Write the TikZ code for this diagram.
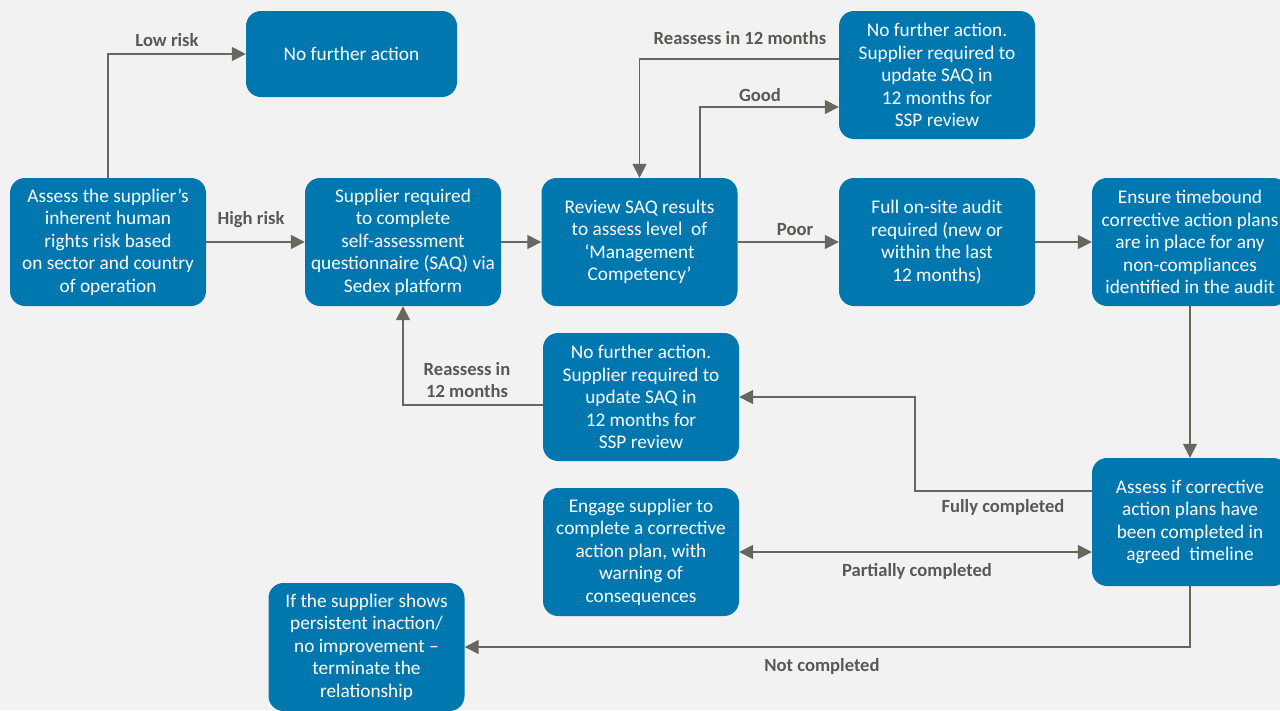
\documentclass[tikz,border=0pt]{standalone}
\usepackage{fontspec}
\setmainfont{Carlito}
\usetikzlibrary{arrows.meta}
\definecolor{boxblue}{RGB}{0,119,174}
\definecolor{linegrey}{RGB}{103,103,95}
\definecolor{labelgrey}{RGB}{88,88,84}
\definecolor{paper}{RGB}{242,242,242}
\begin{document}
\begin{tikzpicture}[
            x=1pt, y=-1pt,
            step box/.style = {shape=rectangle, rounded corners=15pt, fill=boxblue, text=white, align=center,
                minimum width=196pt, minimum height=128pt, inner sep=2pt, font=\fontsize{19.3}{22.5}\selectfont},
            flow/.style = {draw=linegrey, line width=1.6pt, -{Triangle[length=14pt,width=14pt]}},
            both flow/.style = {flow, {Triangle[length=14pt,width=14pt]}-{Triangle[length=14pt,width=14pt]}},
            branch/.style = {text=labelgrey, align=center, font=\bfseries\fontsize{18.6}{22}\selectfont, inner sep=0pt}
        ]

        \fill[paper] (0,0) rectangle (1280,710);
        \useasboundingbox (0,0) rectangle (1280,710);

        % boxes
        \node[step box] (riskcheck) at (108,242) {Assess the supplier’s\\inherent human\\rights risk based\\on sector and country\\of operation};
        \node[step box, minimum width=211pt, minimum height=86pt] (lowend) at (351.5,54) {No further action};
        \node[step box] (saq) at (403,242) {Supplier required\\to complete\\self-assessment\\questionnaire (SAQ) via\\Sedex platform};
        \node[step box] (review) at (639.5,242) {Review SAQ results\\to assess level\ \ of\\‘Management\\Competency’};
        \node[step box] (goodend) at (937,75) {No further action.\\Supplier required to\\update SAQ in\\12 months for\\SSP review};
        \node[step box] (audit) at (937,242) {Full on-site audit\\required (new or\\within the last\\12 months)};
        \node[step box] (plans) at (1190,242) {Ensure timebound\\corrective action plans\\are in place for any\\non-compliances\\identified in the audit};
        \node[step box] (doneend) at (641,397) {No further action.\\Supplier required to\\update SAQ in\\12 months for\\SSP review};
        \node[step box] (engage) at (641,552) {Engage supplier to\\complete a corrective\\action plan, with\\warning of\\consequences};
        \node[step box] (timeline) at (1190,522) {Assess if corrective\\action plans have\\been completed in\\agreed\ \ timeline};
        \node[step box] (terminate) at (366.5,647) {If the supplier shows\\persistent inaction/\\no improvement –\\terminate the\\relationship};

        % connectors
        \draw[flow] (riskcheck.north) |- (lowend.west);
        \draw[flow] (riskcheck.east) -- (saq.west);
        \draw[flow] (saq.east) -- (review.west);
        \draw[flow] (review.east) -- (audit.west);
        \draw[flow] ([xshift=60.5pt]review.north) |- ([yshift=-32pt]goodend.west);
        \draw[flow] ([yshift=16pt]goodend.west) -| (review.north);
        \draw[flow] (audit.east) -- (plans.west);
        \draw[flow] (plans.south) -- (timeline.north);
        \draw[flow] ([yshift=31pt]timeline.west) -- ++(-177pt,0) |- (doneend.east);
        \draw[both flow] (engage.east) -- (engage.east -| timeline.west);
        \draw[flow] (timeline.south) |- (terminate.east);
        \draw[flow] ([yshift=-8pt]doneend.west) -| (saq.south);

        % branch labels
        \node[branch] (lowrisk) at (167,40) {Low risk};
        \node[branch] (highrisk) at (251,220) {High risk};
        \node[branch] (poor) at (795,230) {Poor};
        \node[branch] (good) at (760,95) {Good};
        \node[branch] (recheck) at (740,38) {Reassess in 12 months};
        \node[branch] (recheckb) at (467,380) {Reassess in\\12 months};
        \node[branch] (fully) at (1003,507) {Fully completed};
        \node[branch] (partly) at (917,571) {Partially completed};
        \node[branch] (notdone) at (822,666) {Not completed};
    \end{tikzpicture}
\end{document}
